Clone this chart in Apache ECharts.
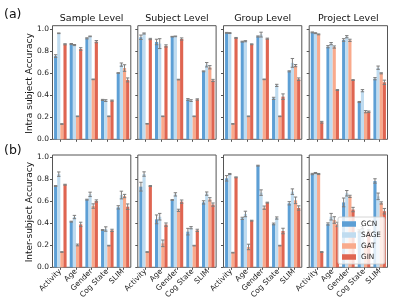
<!DOCTYPE html>
<html>
<head>
<meta charset="utf-8">
<script src="https://cdn.jsdelivr.net/npm/echarts@6/dist/echarts.min.js"></script>
<style>html,body{margin:0;padding:0;background:#fff}#c{width:395px;height:308px}</style>
</head>
<body>
<div id="c"></div>
<script>
const categories = ['Activity', 'Age', 'Gender', 'Cog State', 'SLIM'];
const levels = ['Sample Level', 'Subject Level', 'Group Level', 'Project Level'];
const models = ['GCN', 'SAGE', 'GAT', 'GIN'];
const yTicks = [0, 0.2, 0.4, 0.6, 0.8, 1.0];

// Intra-subject accuracy: one row per level (Sample, Subject, Group, Project)
const intraGCN = [[0.757, 0.866, 0.918, 0.358, 0.603], [0.928, 0.885, 0.933, 0.362, 0.618], [0.968, 0.888, 0.935, 0.372, 0.618], [0.972, 0.842, 0.903, 0.339, 0.551]];
const intraSAGE = [[0.964, 0.857, 0.936, 0.352, 0.679], [0.962, 0.870, 0.936, 0.352, 0.678], [0.966, 0.892, 0.952, 0.490, 0.695], [0.965, 0.870, 0.933, 0.442, 0.651]];
const intraGAT = [[0.139, 0.209, 0.545, 0.209, 0.648], [0.141, 0.209, 0.543, 0.209, 0.655], [0.140, 0.209, 0.545, 0.209, 0.670], [0.954, 0.839, 0.900, 0.251, 0.600]];
const intraGIN = [[0.864, 0.821, 0.888, 0.352, 0.540], [0.912, 0.849, 0.912, 0.362, 0.535], [0.922, 0.864, 0.915, 0.388, 0.546], [0.155, 0.448, 0.539, 0.251, 0.518]];
const intraGCNErr = [[0.012, 0.005, 0.005, 0.005, 0.003], [0.02, 0.025, 0.003, 0.008, 0.004], [0.004, 0.004, 0.005, 0.01, 0.005], [0.004, 0.01, 0.012, 0.005, 0.01]];
const intraSAGEErr = [[0.003, 0.005, 0.003, 0.008, 0.015], [0.005, 0.045, 0.003, 0.008, 0.02], [0.004, 0.005, 0.022, 0.01, 0.04], [0.004, 0.01, 0.01, 0.01, 0.015]];
const intraGATErr = [[0.003, 0.003, 0.003, 0.003, 0.03], [0.003, 0.003, 0.003, 0.003, 0.015], [0.003, 0.003, 0.003, 0.003, 0.01], [0.004, 0.01, 0.01, 0.01, 0.005]];
const intraGINErr = [[0.005, 0.012, 0.01, 0.005, 0.018], [0.006, 0.01, 0.01, 0.006, 0.01], [0.004, 0.004, 0.005, 0.025, 0.012], [0.008, 0.004, 0.004, 0.006, 0.02]];

// Inter-subject accuracy
const interGCN = [[0.739, 0.415, 0.615, 0.339, 0.545], [0.733, 0.436, 0.612, 0.324, 0.590], [0.809, 0.445, 0.924, 0.394, 0.582], [0.848, 0.394, 0.590, 0.330, 0.785]];
const interSAGE = [[0.847, 0.457, 0.663, 0.348, 0.657], [0.848, 0.460, 0.663, 0.360, 0.670], [0.848, 0.485, 0.679, 0.448, 0.688], [0.857, 0.460, 0.673, 0.360, 0.645]];
const interGAT = [[0.139, 0.203, 0.557, 0.197, 0.648], [0.139, 0.218, 0.518, 0.197, 0.618], [0.133, 0.185, 0.542, 0.197, 0.609], [0.848, 0.430, 0.645, 0.200, 0.585]];
const interGIN = [[0.751, 0.390, 0.603, 0.336, 0.551], [0.739, 0.388, 0.597, 0.336, 0.570], [0.818, 0.424, 0.588, 0.330, 0.539], [0.139, 0.390, 0.525, 0.330, 0.510]];
const interGCNErr = [[0.004, 0.004, 0.004, 0.004, 0.015], [0.04, 0.04, 0.004, 0.03, 0.015], [0.025, 0.01, 0.004, 0.008, 0.015], [0.006, 0.01, 0.04, 0.01, 0.02]];
const interSAGEErr = [[0.02, 0.015, 0.02, 0.02, 0.035], [0.02, 0.03, 0.015, 0.01, 0.015], [0.005, 0.025, 0.025, 0.01, 0.025], [0.005, 0.03, 0.025, 0.01, 0.03]];
const interGATErr = [[0.003, 0.008, 0.02, 0.003, 0.015], [0.003, 0.03, 0.01, 0.003, 0.015], [0.003, 0.025, 0.015, 0.003, 0.03], [0.005, 0.03, 0.01, 0.003, 0.01]];
const interGINErr = [[0.004, 0.02, 0.01, 0.01, 0.025], [0.004, 0.015, 0.015, 0.01, 0.015], [0.004, 0.004, 0.004, 0.025, 0.02], [0.004, 0.02, 0.02, 0.01, 0.025]];

const colors = ['#5d9fd5', '#c0dcf0', '#f9aa8c', '#df6551'];
const FONT = 'DejaVu Sans';

const rows = [
  { vals: [intraGCN, intraSAGE, intraGAT, intraGIN], errs: [intraGCNErr, intraSAGEErr, intraGATErr, intraGINErr], top: 25.7, height: 113.6, max: 1.033, label: 'Intra subject Accuracy', tag: '(a)', tagY: 14.5 },
  { vals: [interGCN, interSAGE, interGAT, interGIN], errs: [interGCNErr, interSAGEErr, interGATErr, interGINErr], top: 155, height: 112.3, max: 1.021, label: 'Inter-subject Accuracy', tag: '(b)', tagY: 151 }
];
const lefts = [52.5, 137.8, 223.5, 309.2];
const W = 78.3;

const grid = [], xAxis = [], yAxis = [], series = [], graphic = [];
rows.forEach((row, r) => {
  lefts.forEach((left, c) => {
    const g = r * 4 + c;
    grid.push({ left: left, top: row.top, width: W, height: row.height, show: true, borderColor: '#555', borderWidth: 1, backgroundColor: 'transparent' });
    xAxis.push({
      type: 'category', gridIndex: g, data: categories,
      axisLine: { show: false },
      axisTick: { show: true, alignWithLabel: true, length: 2.5, lineStyle: { color: '#555' } },
      axisLabel: { show: r === 1, rotate: 45, fontSize: 7.5, color: '#222', fontFamily: FONT, margin: 3, interval: 0 },
      splitLine: { show: false }
    });
    yAxis.push({
      type: 'value', gridIndex: g, min: 0, max: row.max,
      axisLine: { show: false },
      axisTick: { show: true, length: 2.5, lineStyle: { color: '#555' }, customValues: yTicks },
      axisLabel: { show: c === 0, fontSize: 7.5, color: '#222', fontFamily: FONT, margin: 3.5, customValues: yTicks, formatter: v => v.toFixed(1) },
      splitLine: { show: false }
    });
    models.forEach((m, k) => {
      series.push({
        type: 'bar', name: m, xAxisIndex: g, yAxisIndex: g,
        data: row.vals[k][c], barWidth: '20%', barGap: '0%',
        itemStyle: { color: colors[k] }, silent: true, animation: false, z: 2
      });
      series.push({
        type: 'custom', name: m + ' err', xAxisIndex: g, yAxisIndex: g,
        data: row.vals[k][c].map((v, i) => [i, v, row.errs[k][c][i]]),
        silent: true, animation: false, z: 3,
        renderItem: (params, api) => {
          const idx = api.value(0), mean = api.value(1), err = api.value(2);
          const bw = api.size([1, 0])[0];
          const p = api.coord([idx, mean]);
          const x = p[0] + (k - 1.5) * 0.2 * bw;
          const yt = api.coord([idx, mean + err])[1];
          const yb = api.coord([idx, mean - err])[1];
          const cw = 1.7;
          const st = { stroke: '#7d7d7d', lineWidth: 1 };
          return { type: 'group', children: [
            { type: 'line', shape: { x1: x, y1: yt, x2: x, y2: yb }, style: st },
            { type: 'line', shape: { x1: x - cw, y1: yt, x2: x + cw, y2: yt }, style: st },
            { type: 'line', shape: { x1: x - cw, y1: yb, x2: x + cw, y2: yb }, style: st }
          ] };
        }
      });
    });
    if (r === 0) {
      graphic.push({ type: 'text', x: left + W / 2, y: 19, style: { text: levels[c], fontSize: 9.5, fontFamily: FONT, fill: '#111', align: 'center', verticalAlign: 'middle' } });
    }
  });
  graphic.push({ type: 'text', x: 30, y: row.top + row.height / 2 + 1, rotation: Math.PI / 2, style: { text: row.label, fontSize: 9, fontFamily: FONT, fill: '#111', align: 'center', verticalAlign: 'middle' } });
  graphic.push({ type: 'text', x: 4, y: row.tagY, style: { text: row.tag, fontSize: 12.5, fontFamily: FONT, fill: '#111', align: 'left', verticalAlign: 'middle' } });
});

const chart = echarts.init(document.getElementById('c'), null, { renderer: 'canvas' });
chart.setOption({
  animation: false,
  grid, xAxis, yAxis, series, graphic,
  legend: {
    data: models, orient: 'vertical', left: 338, top: 217,
    itemWidth: 14, itemHeight: 5.5, itemGap: 3, icon: 'rect',
    padding: [3, 4], backgroundColor: 'rgba(255,255,255,0.8)',
    borderColor: '#ccc', borderWidth: 0.8, borderRadius: 2,
    textStyle: { fontSize: 7.3, fontFamily: FONT, color: '#222', lineHeight: 8 },
    selectedMode: false, z: 10
  }
});
</script>
</body>
</html>
